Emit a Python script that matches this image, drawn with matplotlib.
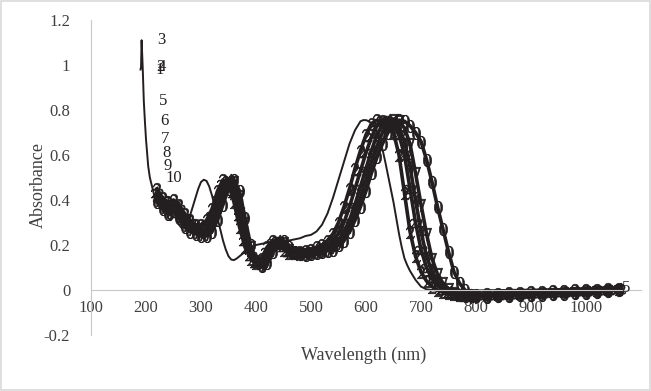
import matplotlib
matplotlib.use('Agg')
import matplotlib.pyplot as plt
from matplotlib.patches import Rectangle

plt.rcParams['font.family'] = ['Liberation Serif', 'DejaVu Serif']
plt.rcParams['mathtext.fontset'] = 'stix'

# Espectro de referencia (linha continua, deslocado para o azul)
wl_solido = [190, 191, 192, 194, 196, 198, 200, 202, 204, 207, 210, 215, 220, 225, 230, 235,
             240, 245, 250, 255, 260, 265, 270, 275, 280, 285, 290, 295, 300, 305, 310, 315,
             320, 325, 330, 335, 340, 345, 350, 355, 360, 365, 370, 380, 390, 400, 410, 420,
             430, 440, 450, 460, 470, 480, 490, 500, 510, 520, 530, 540, 550, 560, 570, 580,
             590, 595, 600, 605, 610, 615, 620, 625, 630, 635, 640, 645, 650, 655, 660, 665,
             670, 675, 680, 690, 700, 710, 720, 730, 740, 750, 760, 780, 800, 850, 900, 950,
             1000, 1060]
abs_solido = [0.98, 0.99, 1.11, 0.99, 0.84, 0.75, 0.67, 0.61, 0.55, 0.50, 0.47, 0.42, 0.40, 0.40,
              0.395, 0.37, 0.32, 0.31, 0.325, 0.32, 0.29, 0.275, 0.28, 0.30, 0.33, 0.37, 0.41,
              0.45, 0.48, 0.49, 0.485, 0.46, 0.42, 0.37, 0.32, 0.27, 0.22, 0.18, 0.15, 0.135,
              0.133, 0.14, 0.15, 0.17, 0.19, 0.20, 0.205, 0.21, 0.215, 0.215, 0.215, 0.22,
              0.225, 0.23, 0.24, 0.245, 0.26, 0.29, 0.34, 0.41, 0.49, 0.57, 0.65, 0.71, 0.75,
              0.755, 0.755, 0.75, 0.74, 0.725, 0.70, 0.665, 0.625, 0.57, 0.51, 0.45, 0.39, 0.32,
              0.25, 0.19, 0.14, 0.11, 0.085, 0.045, 0.015, 0.003, 0.0, -0.002, -0.003, -0.003,
              -0.003, -0.002, -0.002, 0.0, 0.002, 0.004, 0.006, 0.01]
rotulos_inicio = ['1', '2', '3', '4', '5', '6', '7', '8', '9', '10']

# Espectros deslocados (series com marcadores numericos)
wl = list(range(220, 800, 10)) + list(range(800, 1061, 20))
serie_a = [0.45, 0.41, 0.39, 0.40, 0.38, 0.34, 0.31, 0.29, 0.29, 0.31, 0.36, 0.44, 0.49, 0.47,
           0.39, 0.28, 0.19, 0.14, 0.12, 0.14, 0.19, 0.22, 0.21, 0.18, 0.165, 0.165, 0.17, 0.175,
           0.18, 0.19, 0.20, 0.22, 0.25, 0.30, 0.37, 0.45, 0.54, 0.62, 0.69, 0.74, 0.755, 0.75,
           0.73, 0.70, 0.60, 0.43, 0.26, 0.15, 0.08, 0.04, 0.015, 0.0, -0.01, -0.015, -0.018,
           -0.02, -0.02, -0.02,
           -0.02, -0.018, -0.016, -0.014, -0.012, -0.01, -0.008, -0.006, -0.004, -0.002, 0.0,
           0.002, 0.004, 0.006]
serie_b = [0.43, 0.40, 0.37, 0.38, 0.36, 0.32, 0.30, 0.28, 0.28, 0.29, 0.33, 0.40, 0.47, 0.49,
           0.43, 0.33, 0.22, 0.15, 0.12, 0.13, 0.17, 0.21, 0.22, 0.19, 0.17, 0.165, 0.165, 0.17,
           0.175, 0.18, 0.19, 0.20, 0.22, 0.25, 0.30, 0.37, 0.45, 0.53, 0.61, 0.68, 0.73, 0.755,
           0.75, 0.73, 0.69, 0.60, 0.45, 0.30, 0.18, 0.10, 0.05, 0.02, 0.0, -0.012, -0.018,
           -0.022, -0.024, -0.024,
           -0.024, -0.022, -0.02, -0.018, -0.016, -0.014, -0.012, -0.01, -0.008, -0.006, -0.004,
           -0.001, 0.002, 0.005]
serie_c = [0.41, 0.38, 0.36, 0.37, 0.34, 0.30, 0.28, 0.27, 0.26, 0.27, 0.30, 0.37, 0.44, 0.49,
           0.46, 0.38, 0.26, 0.17, 0.12, 0.11, 0.15, 0.20, 0.22, 0.20, 0.17, 0.16, 0.16, 0.165,
           0.17, 0.175, 0.18, 0.19, 0.20, 0.22, 0.26, 0.31, 0.38, 0.46, 0.54, 0.62, 0.69, 0.735,
           0.755, 0.75, 0.72, 0.66, 0.55, 0.40, 0.26, 0.15, 0.08, 0.035, 0.01, -0.008, -0.018,
           -0.024, -0.026, -0.027,
           -0.027, -0.025, -0.023, -0.021, -0.019, -0.017, -0.015, -0.013, -0.011, -0.009,
           -0.007, -0.004, 0.0, 0.004]
serie_d = [0.40, 0.37, 0.35, 0.36, 0.33, 0.29, 0.27, 0.26, 0.25, 0.25, 0.28, 0.34, 0.41, 0.47,
           0.48, 0.42, 0.30, 0.19, 0.13, 0.11, 0.13, 0.18, 0.21, 0.21, 0.18, 0.165, 0.16, 0.16,
           0.165, 0.17, 0.175, 0.18, 0.19, 0.21, 0.24, 0.28, 0.34, 0.41, 0.49, 0.57, 0.64, 0.70,
           0.74, 0.755, 0.75, 0.72, 0.65, 0.52, 0.38, 0.25, 0.14, 0.07, 0.03, 0.005, -0.012,
           -0.022, -0.027, -0.029,
           -0.03, -0.028, -0.026, -0.024, -0.022, -0.02, -0.018, -0.016, -0.014, -0.012, -0.01,
           -0.007, -0.003, 0.002]
serie_e = [0.39, 0.36, 0.34, 0.35, 0.32, 0.28, 0.26, 0.25, 0.24, 0.24, 0.26, 0.31, 0.38, 0.45,
           0.49, 0.44, 0.32, 0.20, 0.13, 0.105, 0.12, 0.17, 0.21, 0.22, 0.19, 0.17, 0.16, 0.155,
           0.16, 0.165, 0.17, 0.175, 0.18, 0.20, 0.22, 0.26, 0.31, 0.37, 0.44, 0.52, 0.59, 0.65,
           0.70, 0.735, 0.755, 0.75, 0.73, 0.70, 0.66, 0.58, 0.48, 0.37, 0.27, 0.17, 0.08, 0.03,
           0.0, -0.02,
           -0.028, -0.03, -0.028, -0.026, -0.024, -0.022, -0.02, -0.018, -0.016, -0.014, -0.012,
           -0.008, -0.004, 0.0]
series = [serie_a, serie_b, serie_c, serie_d, serie_e]
marcadores = ['$2$', '$22$', '$4$', '$7$', '$0$']

x_ticks = [100, 200, 300, 400, 500, 600, 700, 800, 900, 1000]
y_ticks = [-0.2, 0, 0.2, 0.4, 0.6, 0.8, 1, 1.2]
y_ticklabels = ['-0.2', '0', '0.2', '0.4', '0.6', '0.8', '1', '1.2']

cor = '#231f20'
cinza = '#c8c8c8'

fig = plt.figure(figsize=(6.51, 3.91), dpi=100)
ax = fig.add_axes([91 / 651, 56 / 391, 550 / 651, 315 / 391])

# series deslocadas: linha grossa + numeros como marcadores
for valores, m in zip(series, marcadores):
    ax.plot(wl, valores, color=cor, lw=2.6, marker=m, markersize=9,
            mfc=cor, mec=cor, mew=0.5)

ax.plot(wl_solido, abs_solido, color=cor, lw=1.4)

for i, r in enumerate(rotulos_inicio):
    ax.annotate(r, (wl_solido[i], abs_solido[i]), xytext=(11, 0), textcoords='offset points',
                ha='left', va='center', fontsize=12, color=cor)
ax.annotate('5', (wl_solido[-1], abs_solido[-1]), xytext=(2, 0), textcoords='offset points',
            ha='left', va='center', fontsize=12, color=cor)

ax.set_xlim(100, 1100)
ax.set_ylim(-0.2, 1.2)
ax.set_xticks(x_ticks)
ax.set_xticklabels([str(t) for t in x_ticks])
ax.set_yticks(y_ticks)
ax.set_yticklabels(y_ticklabels)
ax.tick_params(axis='both', length=0, labelsize=12, colors='#404040')
ax.tick_params(axis='y', pad=15)
ax.tick_params(axis='x', pad=7)

for lado in ['top', 'right']:
    ax.spines[lado].set_visible(False)
ax.spines['bottom'].set_position(('data', 0))
ax.spines['bottom'].set_color(cinza)
ax.spines['left'].set_color(cinza)

fig.text(364 / 651, 1 - 355 / 391, 'Wavelength (nm)', ha='center', va='center',
         fontsize=13, color='#404040')
fig.text(38 / 651, 1 - 185 / 391, 'Absorbance', ha='center', va='center',
         rotation=90, fontsize=13, color='#404040')

fig.patches.append(Rectangle((1 / 651, 1 / 391), 649 / 651, 389 / 391, transform=fig.transFigure,
                             fill=False, edgecolor='#d9d9d9', lw=1.2))

fig.savefig('out.png', dpi=100)
